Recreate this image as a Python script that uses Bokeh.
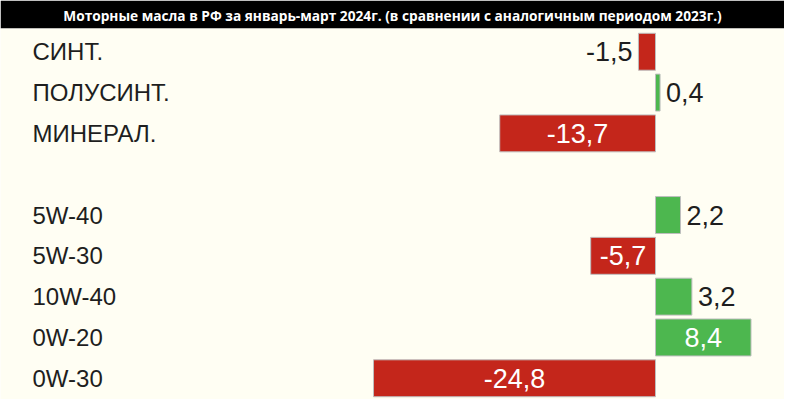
from bokeh.plotting import figure
from bokeh.models import ColumnDataSource, Range1d
from bokeh.core.properties import value
from bokeh.embed import file_html
from bokeh.resources import INLINE

TITLE = "Моторные масла в РФ за январь-март 2024г. (в сравнении с аналогичным периодом 2023г.)"

type_labels = ["СИНТ.", "ПОЛУСИНТ.", "МИНЕРАЛ."]
type_values = [-1.5, 0.4, -13.7]

grade_labels = ["5W-40", "5W-30", "10W-40", "0W-20", "0W-30"]
grade_values = [2.2, -5.7, 3.2, 8.4, -24.8]

RED = "#C4261B"
GREEN = "#4DB74F"
BG = "#FFFEF3"

labels = type_labels + grade_labels
vals = type_values + grade_values
rows = list(range(len(type_labels))) + [len(type_labels) + 1 + i for i in range(len(grade_labels))]

def fmt(v):
    return f"{v:.1f}".replace(".", ",")

src = ColumnDataSource(dict(
    y=rows, v=vals, lab=labels,
    color=[GREEN if v > 0 else RED for v in vals],
    txt=[fmt(v) for v in vals],
))

INSIDE = 5.0
ins = [i for i, v in enumerate(vals) if abs(v) > INSIDE]
out_neg = [i for i, v in enumerate(vals) if abs(v) <= INSIDE and v < 0]
out_pos = [i for i, v in enumerate(vals) if abs(v) <= INSIDE and v >= 0]

def sub(idx, key):
    return [src.data[key][i] for i in idx]

W, H = 784, 399
PX = 11.37
ZERO_PX = 655
x0 = -ZERO_PX / PX
x1 = x0 + W / PX

p = figure(width=W, height=H, x_range=Range1d(x0, x1), y_range=Range1d(8.52, -0.57),
           toolbar_location=None, output_backend="svg", min_border=0,
           title=TITLE)
p.title.align = "center"
p.title.text_color = "white"
p.title.text_font = "Open Sans"
p.title.text_font_style = "bold"
p.title.text_font_size = "13.7px"
p.title.standoff = 7
p.border_fill_color = "black"
p.background_fill_color = BG
p.outline_line_color = None
p.axis.visible = False
p.grid.visible = False

p.hbar(y="y", left=0, right="v", height=0.905, fill_color="color",
       line_color="#BEBEBE", line_width=1, source=src)

FONT = value("Liberation Sans")
p.text(x=[x0] * len(labels), y=rows, text=labels, x_offset=32,
       text_font=FONT, text_font_size="24px", text_color="#1e1e1e",
       text_baseline="middle", text_align="left")

VSIZE = "27px"
p.text(x=[v / 2 for v in sub(ins, "v")], y=sub(ins, "y"), text=sub(ins, "txt"),
       text_font=FONT, text_font_size=VSIZE, text_color="white",
       text_baseline="middle", text_align="center")
p.text(x=sub(out_neg, "v"), y=sub(out_neg, "y"), text=sub(out_neg, "txt"), x_offset=-6,
       text_font=FONT, text_font_size=VSIZE, text_color="#1e1e1e",
       text_baseline="middle", text_align="right")
p.text(x=sub(out_pos, "v"), y=sub(out_pos, "y"), text=sub(out_pos, "txt"), x_offset=6,
       text_font=FONT, text_font_size=VSIZE, text_color="#1e1e1e",
       text_baseline="middle", text_align="left")

open("out.html", "w").write(file_html(p, INLINE))
